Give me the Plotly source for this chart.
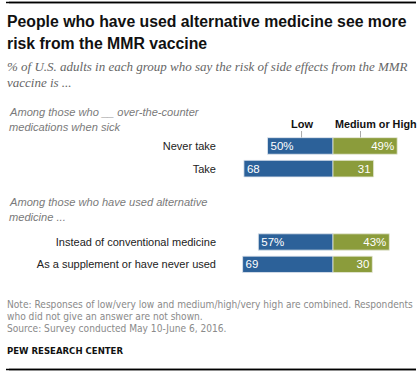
import plotly.graph_objects as go

W, H = 420, 375

group1_categories = ["Never take", "Take"]
group1_low = [50, 68]
group1_high = [49, 31]

group2_categories = ["Instead of conventional medicine", "As a supplement or have never used"]
group2_low = [57, 69]
group2_high = [43, 30]

series_names = ["Low", "Medium or High"]

BLUE = "#2c6199"
GREEN = "#8b9c3b"
NARROW = "DejaVu Sans Condensed, Liberation Sans"

def px_x(p):
    return p / W

def px_y(p):
    return 1 - p / H

def labels(vals):
    return [f"{v}%" if i == 0 else str(v) for i, v in enumerate(vals)]

fig = go.Figure()

for ax, cats, low, high in [("y", group1_categories, group1_low, group1_high),
                            ("y2", group2_categories, group2_low, group2_high)]:
    fig.add_trace(go.Bar(
        y=cats, x=low, base=[-v for v in low], orientation="h", yaxis=ax,
        marker=dict(color=BLUE, line=dict(color="#dfe6ee", width=0.8)),
        text=labels(low), textposition="inside", insidetextanchor="start", textangle=0,
        textfont=dict(color="white", size=11.5, family="Liberation Sans"),
        width=0.73, showlegend=False, hoverinfo="skip", cliponaxis=False,
    ))
    fig.add_trace(go.Bar(
        y=cats, x=high, base=[0] * len(high), orientation="h", yaxis=ax,
        marker=dict(color=GREEN, line=dict(color="#e7eadb", width=0.8)),
        text=labels(high), textposition="inside", insidetextanchor="end", textangle=0,
        textfont=dict(color="white", size=11.5, family="Liberation Sans"),
        width=0.73, showlegend=False, hoverinfo="skip", cliponaxis=False,
    ))

# scale: 0 at px 333, 1.31 px per unit, domain starting at px 220
scale = 1.31
zero_px = 333
x0_px = 220
xrange = [(x0_px - zero_px) / scale, (W - zero_px) / scale]

common_y = dict(showgrid=False, zeroline=False, showline=False, ticks="",
                tickfont=dict(size=11, color="#222222", family="Liberation Sans"),
                range=[1.5, -0.5], ticklabelstandoff=3)

fig.update_layout(
    width=W, height=H,
    margin=dict(l=0, r=0, t=0, b=0),
    paper_bgcolor="white", plot_bgcolor="rgba(0,0,0,0)",
    barmode="overlay",
    showlegend=False,
    uniformtext=dict(mode="show", minsize=11.5),
    xaxis=dict(domain=[px_x(x0_px), 1], range=xrange, visible=False, fixedrange=True),
    yaxis=dict(domain=[px_y(180), px_y(134.6)], **common_y),
    yaxis2=dict(domain=[px_y(275.5), px_y(230.8)], anchor="x", **common_y),
    font=dict(family="Liberation Sans"),
)

anns = []
def note(text, x, y, size, color, family, xanchor="left", yanchor="middle"):
    anns.append(dict(text=text, x=px_x(x), y=px_y(y), xref="paper", yref="paper",
                     xanchor=xanchor, yanchor=yanchor, showarrow=False,
                     font=dict(size=size, color=color, family=family), align="left"))

note("<b>People who have used alternative medicine see more</b>", 5, 22, 15.8, "#111111", "Liberation Sans")
note("<b>risk from the MMR vaccine</b>", 5, 43, 15.8, "#111111", "Liberation Sans")
note("<i>% of U.S. adults in each group who say the risk of side effects from the MMR</i>", 5, 67, 13, "#666666", "Liberation Serif")
note("<i>vaccine is ...</i>", 5, 82, 13, "#666666", "Liberation Serif")
note("<i>Among those who __ over-the-counter</i>", 7, 112, 11.1, "#7a7a7a", "Liberation Sans")
note("<i>medications when sick</i>", 7, 127, 11.1, "#7a7a7a", "Liberation Sans")
note("<i>Among those who have used alternative</i>", 7, 201.5, 11.1, "#7a7a7a", "Liberation Sans")
note("<i>medicine ...</i>", 7, 216.5, 11.1, "#7a7a7a", "Liberation Sans")
note("Note: Responses of low/very low and medium/high/very high are combined. Respondents", 5, 304, 10.1, "#8a8a8a", NARROW)
note("who did not give an answer are not shown.", 5, 316, 10.1, "#8a8a8a", NARROW)
note("Source: Survey conducted May 10-June 6, 2016.", 5, 328.5, 10.1, "#8a8a8a", NARROW)
note("<b>PEW RESEARCH CENTER</b>", 5, 350, 9.5, "#111111", NARROW)

# column headers (data x, paper y)
anns.append(dict(text="<b>" + series_names[0] + "</b>", x=-24, xref="x", y=px_y(124), yref="paper",
                 xanchor="center", yanchor="middle", showarrow=False,
                 font=dict(size=11, color="#111111", family="Liberation Sans")))
anns.append(dict(text="<b>" + series_names[1] + "</b>", x=0, xref="x", xshift=0, y=px_y(124), yref="paper",
                 xanchor="left", yanchor="middle", showarrow=False,
                 font=dict(size=10.8, color="#111111", family="Liberation Sans")))

# frame rules as arrow-only annotations (pixel offsets)
for ry in (2.5, 369.5):
    anns.append(dict(text=" ", x=px_x(416), y=px_y(ry), xref="paper", yref="paper",
                     showarrow=True, arrowhead=0, arrowwidth=1.5, arrowcolor="black",
                     ax=-410, ay=0, standoff=0, startstandoff=0))

shapes = [
    dict(type="line", xref="paper", yref="paper", x0=px_x(6), x1=px_x(416), y0=px_y(2.5), y1=px_y(2.5),
         line=dict(color="black", width=1.5)),
    dict(type="line", xref="paper", yref="paper", x0=px_x(6), x1=px_x(416), y0=px_y(369.5), y1=px_y(369.5),
         line=dict(color="black", width=1.5)),
    dict(type="line", xref="x", yref="paper", x0=-24, x1=-24, y0=px_y(131), y1=px_y(137.5),
         line=dict(color="#aaaaaa", width=1)),
    dict(type="line", xref="x", yref="paper", x0=21, x1=21, y0=px_y(131), y1=px_y(137.5),
         line=dict(color="#aaaaaa", width=1)),
]

fig.update_layout(annotations=anns, shapes=shapes)
fig.write_html("out.html", config={"displayModeBar": False},
               post_script="document.body.style.margin='0';document.body.style.overflow='hidden';")
